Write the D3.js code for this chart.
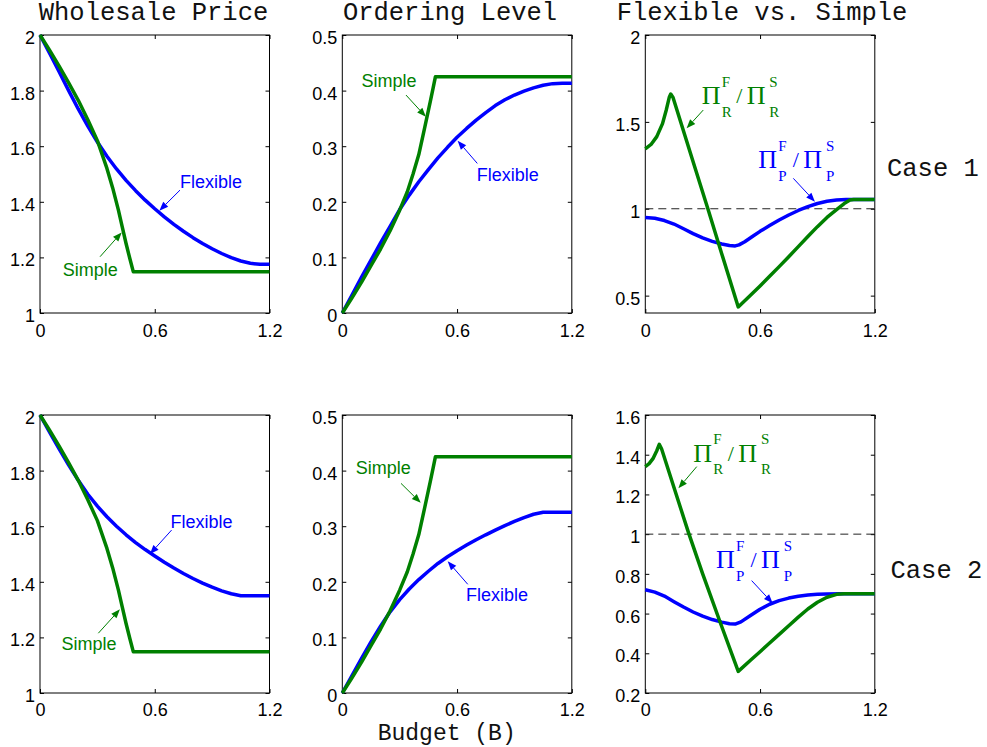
<!DOCTYPE html>
<html>
<head>
<meta charset="utf-8">
<script src="https://cdn.jsdelivr.net/npm/d3@7"></script>
<style>
  body { margin: 0; background: #fff; }
  svg text { font-family: "Liberation Sans", Arial, sans-serif; }
  .mono { font-family: "Liberation Mono", monospace; font-size: 25.5px; fill: #111; }
  .tick text { font-size: 18px; fill: #000; }
  .tick line { stroke: #000; }
</style>
</head>
<body>
<svg width="987" height="747"></svg>
<script>
// ---- data ----
var budgetTicks = [0, 0.6, 1.2];
var priceTicks = [1, 1.2, 1.4, 1.6, 1.8, 2];
var orderTicks = [0, 0.1, 0.2, 0.3, 0.4, 0.5];
var ratioTicks1 = [0.5, 1, 1.5, 2];
var ratioTicks2 = [0.2, 0.4, 0.6, 0.8, 1, 1.2, 1.4, 1.6];

// common budget grid for the smooth "flexible" curves
var gridB = [0, 0.05, 0.1, 0.15, 0.2, 0.25, 0.3, 0.35, 0.4, 0.45, 0.5, 0.55, 0.6,
             0.65, 0.7, 0.75, 0.8, 0.85, 0.9, 0.95, 1.0, 1.05, 1.1, 1.15, 1.2];

// wholesale price
var simplePriceB = [0, 0.05, 0.1, 0.15, 0.2, 0.25, 0.3, 0.35, 0.38, 0.41, 0.43, 0.45, 0.47, 0.488, 1.2];
var simplePrice  = [2, 1.945, 1.888, 1.828, 1.765, 1.695, 1.62, 1.52, 1.45, 1.37, 1.31, 1.25, 1.195, 1.148, 1.148];
var flexPrice1 = [2, 1.935, 1.868, 1.80, 1.734, 1.672, 1.615, 1.564, 1.518, 1.477, 1.44, 1.406, 1.375,
                  1.346, 1.319, 1.294, 1.271, 1.25, 1.231, 1.214, 1.199, 1.187, 1.179, 1.175, 1.175];
var flexPrice2 = [2, 1.938, 1.878, 1.82, 1.765, 1.715, 1.672, 1.634, 1.6, 1.569, 1.541, 1.516, 1.493,
                  1.4705, 1.4495, 1.43, 1.412, 1.3955, 1.3805, 1.3675, 1.357, 1.35, 1.35, 1.35, 1.35];

// ordering level
var simpleOrderB = [0, 0.05, 0.1, 0.15, 0.2, 0.25, 0.3, 0.34, 0.37, 0.4, 0.43, 0.46, 0.475, 0.487, 1.2];
var simpleOrder  = [0, 0.027, 0.055, 0.085, 0.115, 0.148, 0.185, 0.218, 0.25, 0.285, 0.332, 0.38, 0.405, 0.425, 0.425];
var flexOrder1 = [0, 0.032, 0.064, 0.095, 0.126, 0.156, 0.186, 0.212, 0.236, 0.258, 0.279, 0.298, 0.316,
                  0.332, 0.347, 0.3605, 0.373, 0.3835, 0.392, 0.399, 0.405, 0.4095, 0.4125, 0.413, 0.413];
var flexOrder2 = [0, 0.031, 0.062, 0.092, 0.12, 0.146, 0.168, 0.187, 0.204, 0.219, 0.233, 0.245, 0.256,
                  0.266, 0.2755, 0.2845, 0.293, 0.301, 0.3085, 0.3155, 0.3215, 0.325, 0.325, 0.325, 0.325];

// profit ratios, case 1
var retailRatioB1 = [0, 0.03, 0.06, 0.09, 0.11, 0.125, 0.133, 0.145, 0.25, 0.33, 0.4, 0.486, 0.55, 0.6,
                     0.65, 0.7, 0.75, 0.8, 0.85, 0.9, 0.95, 1.0, 1.04, 1.07, 1.09, 1.2];
var retailRatio1  = [1.345, 1.37, 1.415, 1.49, 1.57, 1.64, 1.66, 1.64, 1.27, 0.99, 0.74, 0.435, 0.502, 0.556,
                     0.611, 0.667, 0.724, 0.782, 0.84, 0.897, 0.95, 0.995, 1.03, 1.05, 1.053, 1.053];
var supplierRatioB1 = [0, 0.05, 0.1, 0.15, 0.2, 0.25, 0.3, 0.35, 0.4, 0.44, 0.47, 0.49, 0.52, 0.56, 0.6,
                       0.65, 0.7, 0.75, 0.8, 0.85, 0.9, 0.95, 1.0, 1.05, 1.2];
var supplierRatio1  = [0.95, 0.945, 0.932, 0.912, 0.885, 0.857, 0.832, 0.812, 0.797, 0.788, 0.786, 0.792, 0.81, 0.84, 0.87,
                       0.903, 0.935, 0.964, 0.99, 1.012, 1.03, 1.043, 1.05, 1.053, 1.053];

// profit ratios, case 2
var retailRatioB2 = [0, 0.02, 0.04, 0.06, 0.073, 0.085, 0.15, 0.225, 0.3, 0.39, 0.486, 0.55, 0.6, 0.65,
                     0.7, 0.75, 0.8, 0.85, 0.9, 0.95, 1.0, 1.04, 1.2];
var retailRatio2  = [1.34, 1.355, 1.38, 1.42, 1.452, 1.43, 1.235, 1.01, 0.8, 0.56, 0.309, 0.365, 0.408, 0.452,
                     0.495, 0.539, 0.582, 0.623, 0.657, 0.682, 0.697, 0.7, 0.7];
var supplierRatioB2 = [0, 0.05, 0.1, 0.15, 0.2, 0.25, 0.3, 0.35, 0.4, 0.44, 0.47, 0.5, 0.55, 0.6,
                       0.65, 0.7, 0.75, 0.8, 0.85, 0.9, 0.95, 1.02, 1.2];
var supplierRatio2  = [0.72, 0.708, 0.688, 0.66, 0.633, 0.608, 0.587, 0.57, 0.557, 0.549, 0.547, 0.558, 0.59, 0.622,
                       0.647, 0.665, 0.678, 0.687, 0.693, 0.697, 0.699, 0.7, 0.7];

// ---- layout ----
var blue = '#0000ff', green = '#008000';
var panelW = 229.5, panelH = 278;
var colX = [40, 342.3, 645.3];
var rowY = [35, 415];
var xPad = [11, 10]; // tick label gap under each row

function zip(xs, ys) { return xs.map(function (b, i) { return [b, ys[i]]; }); }

var panels = [
  { row: 0, col: 0, domain: [1, 2], ticks: priceTicks,
    series: [{ c: blue, d: zip(gridB, flexPrice1) }, { c: green, d: zip(simplePriceB, simplePrice) }],
    texts: [{ t: 'Flexible', c: blue, at: [0.732, 1.45] }, { t: 'Simple', c: green, at: [0.119, 1.133] }],
    arrows: [{ c: blue, from: [0.732, 1.442], to: [0.624, 1.368] }, { c: green, from: [0.314, 1.2025], to: [0.427, 1.29] }] },
  { row: 0, col: 1, domain: [0, 0.5], ticks: orderTicks,
    series: [{ c: blue, d: zip(gridB, flexOrder1) }, { c: green, d: zip(simpleOrderB, simpleOrder) }],
    texts: [{ t: 'Simple', c: green, at: [0.101, 0.4065] }, { t: 'Flexible', c: blue, at: [0.703, 0.237] }],
    arrows: [{ c: green, from: [0.333, 0.392], to: [0.437, 0.353] }, { c: blue, from: [0.706, 0.269], to: [0.603, 0.31] }] },
  { row: 0, col: 2, domain: [0.4, 2], ticks: ratioTicks1, dashed: true,
    series: [{ c: blue, d: zip(supplierRatioB1, supplierRatio1) }, { c: green, d: zip(retailRatioB1, retailRatio1) }],
    pis: [{ sub: 'R', c: green, at: [0.295, 1.601] }, { sub: 'P', c: blue, at: [0.591, 1.233] }],
    arrows: [{ c: green, from: [0.303, 1.568], to: [0.216, 1.463] }, { c: blue, from: [0.774, 1.175], to: [0.887, 1.041] }] },
  { row: 1, col: 0, domain: [1, 2], ticks: priceTicks,
    series: [{ c: blue, d: zip(gridB, flexPrice2) }, { c: green, d: zip(simplePriceB, simplePrice) }],
    texts: [{ t: 'Flexible', c: blue, at: [0.683, 1.594] }, { t: 'Simple', c: green, at: [0.113, 1.155] }],
    arrows: [{ c: blue, from: [0.688, 1.586], to: [0.575, 1.5] }, { c: green, from: [0.305, 1.215], to: [0.418, 1.301] }] },
  { row: 1, col: 1, domain: [0, 0.5], ticks: orderTicks,
    series: [{ c: blue, d: zip(gridB, flexOrder2) }, { c: green, d: zip(simpleOrderB, simpleOrder) }],
    texts: [{ t: 'Simple', c: green, at: [0.07, 0.394] }, { t: 'Flexible', c: blue, at: [0.647, 0.1655] }],
    arrows: [{ c: green, from: [0.307, 0.377], to: [0.41, 0.342] }, { c: blue, from: [0.656, 0.1955], to: [0.551, 0.237] }] },
  { row: 1, col: 2, domain: [0.2, 1.6], ticks: ratioTicks2, dashed: true,
    series: [{ c: blue, d: zip(supplierRatioB2, supplierRatio2) }, { c: green, d: zip(retailRatioB2, retailRatio2) }],
    pis: [{ sub: 'R', c: green, at: [0.251, 1.365] }, { sub: 'P', c: blue, at: [0.37, 0.828] }],
    arrows: [{ c: green, from: [0.269, 1.34], to: [0.173, 1.231] }, { c: blue, from: [0.556, 0.766], to: [0.666, 0.652] }] }
];

var svg = d3.select('svg');

function drawArrow(g, x1, y1, x2, y2, color) {
  var a = Math.atan2(y2 - y1, x2 - x1), len = 9, hw = 3.5;
  var bx = x2 - len * Math.cos(a), by = y2 - len * Math.sin(a);
  g.append('line')
    .attr('x1', x1).attr('y1', y1).attr('x2', bx).attr('y2', by)
    .attr('stroke', color).attr('stroke-width', 1);
  g.append('path')
    .attr('d', 'M' + x2 + ',' + y2 +
      'L' + (bx + hw * Math.sin(a)) + ',' + (by - hw * Math.cos(a)) +
      'L' + (bx - hw * Math.sin(a)) + ',' + (by + hw * Math.cos(a)) + 'Z')
    .attr('fill', color);
}

// Π^F_x / Π^S_x label, (px, py) = left baseline of the first Π
function drawPi(g, px, py, sub, color) {
  var t = g.append('g').attr('transform', 'translate(' + px + ',' + py + ')').attr('fill', color);
  [[0, 0, '\u03A0', 26], [20, -17.6, 'F', 15], [20, 12.4, sub, 15], [34.5, -1, '/', 22],
   [45, 0, '\u03A0', 26], [67.6, -17.6, 'S', 15], [67.6, 12.4, sub, 15]].forEach(function (p) {
    t.append('text')
      .attr('x', p[0]).attr('y', p[1])
      .style('font-family', '"Liberation Serif", "Times New Roman", serif')
      .style('font-size', p[3] + 'px')
      .text(p[2]);
  });
}

panels.forEach(function (p) {
  var g = svg.append('g')
    .attr('transform', 'translate(' + colX[p.col] + ',' + rowY[p.row] + ')');

  var x = d3.scaleLinear().domain([0, 1.2]).range([0, panelW]);
  var y = d3.scaleLinear().domain(p.domain).range([panelH, 0]);

  // axes, ticks pointing inward on all four sides
  g.append('g').attr('transform', 'translate(0,' + panelH + ')')
    .call(d3.axisBottom(x).tickValues(budgetTicks).tickSize(-4).tickSizeOuter(0).tickPadding(xPad[p.row]).tickFormat(String));
  var left = g.append('g')
    .call(d3.axisLeft(y).tickValues(p.ticks).tickSize(-4).tickSizeOuter(0).tickPadding(5).tickFormat(String));
  g.append('g')
    .call(d3.axisTop(x).tickValues(budgetTicks).tickSize(-4).tickSizeOuter(0).tickFormat(''));
  g.append('g').attr('transform', 'translate(' + panelW + ',0)')
    .call(d3.axisRight(y).tickValues(p.ticks).tickSize(-4).tickSizeOuter(0).tickFormat(''));
  g.selectAll('.domain').remove();
  g.selectAll('.tick text').attr('font-family', null);
  left.selectAll('.tick text').attr('dy', '0.47em');

  g.append('rect')
    .attr('width', panelW).attr('height', panelH)
    .attr('fill', 'none').attr('stroke', '#000').attr('stroke-width', 1);

  if (p.dashed) {
    g.append('line')
      .attr('x1', x(0)).attr('x2', x(1.2)).attr('y1', y(1)).attr('y2', y(1))
      .attr('stroke', '#222').attr('stroke-width', 1).attr('stroke-dasharray', '8,5');
  }

  var line = d3.line().x(function (d) { return x(d[0]); }).y(function (d) { return y(d[1]); });
  g.selectAll('path.curve')
    .data(p.series)
    .enter()
    .append('path')
      .attr('class', 'curve')
      .attr('d', function (s) { return line(s.d); })
      .attr('fill', 'none')
      .attr('stroke', function (s) { return s.c; })
      .attr('stroke-width', 3.5)
      .attr('stroke-linejoin', 'round');

  (p.texts || []).forEach(function (t) {
    g.append('text')
      .attr('x', x(t.at[0])).attr('y', y(t.at[1]))
      .attr('fill', t.c)
      .style('font-size', '18px')
      .text(t.t);
  });

  (p.pis || []).forEach(function (t) {
    drawPi(g, x(t.at[0]), y(t.at[1]), t.sub, t.c);
  });

  p.arrows.forEach(function (a) {
    drawArrow(g, x(a.from[0]), y(a.from[1]), x(a.to[0]), y(a.to[1]), a.c);
  });
});

// titles and side labels
svg.append('text').attr('class', 'mono').attr('x', 153.5).attr('y', 20).attr('text-anchor', 'middle').text('Wholesale Price');
svg.append('text').attr('class', 'mono').attr('x', 450).attr('y', 20).attr('text-anchor', 'middle').text('Ordering Level');
svg.append('text').attr('class', 'mono').attr('x', 762).attr('y', 20).attr('text-anchor', 'middle').text('Flexible vs. Simple');
svg.append('text').attr('class', 'mono').attr('x', 887).attr('y', 176).text('Case 1');
svg.append('text').attr('class', 'mono').attr('x', 890.5).attr('y', 578).text('Case 2');
svg.append('text').attr('class', 'mono').attr('x', 446.7).attr('y', 739.5).attr('text-anchor', 'middle')
  .style('font-size', '23px').text('Budget (B)');
</script>
</body>
</html>
